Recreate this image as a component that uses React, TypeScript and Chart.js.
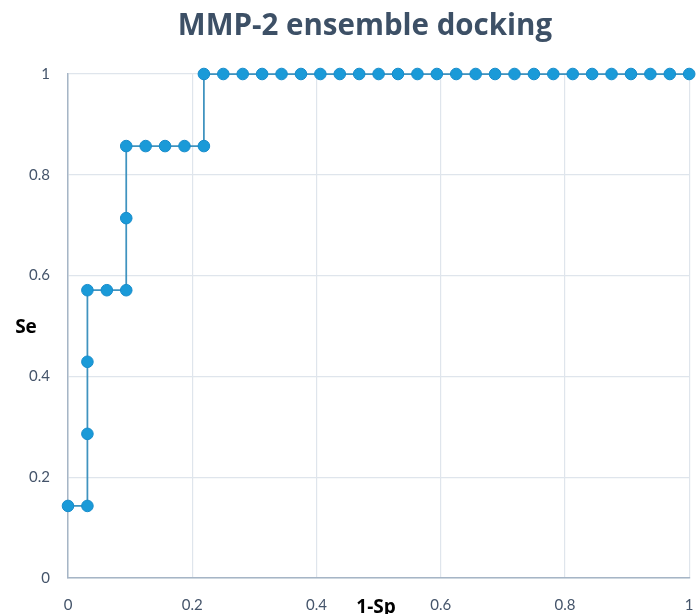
import React, { useEffect, useRef } from "react";
import { Chart, registerables } from "chart.js";

Chart.register(...registerables);

const chartTitle = "MMP-2 ensemble docking";
const xAxisLabel = "1-Sp";
const yAxisLabel = "Se";

const oneMinusSp = [
  0, 0.03125, 0.03125, 0.03125, 0.03125, 0.0625, 0.09375, 0.09375, 0.09375,
  0.125, 0.15625, 0.1875, 0.21875, 0.21875, 0.25, 0.28125, 0.3125, 0.34375,
  0.375, 0.40625, 0.4375, 0.46875, 0.5, 0.53125, 0.5625, 0.59375, 0.625,
  0.65625, 0.6875, 0.71875, 0.75, 0.78125, 0.8125, 0.84375, 0.875, 0.90625,
  0.9375, 0.96875, 1,
];
const sensitivity = [
  0.143, 0.143, 0.286, 0.429, 0.571, 0.571, 0.571, 0.714, 0.857, 0.857, 0.857,
  0.857, 0.857, 1, 1, 1, 1, 1, 1, 1, 1, 1, 1, 1, 1, 1, 1, 1, 1, 1, 1, 1, 1, 1,
  1, 1, 1, 1, 1,
];

const FONT = "Lato, 'Open Sans', sans-serif";
const BOLD_FONT = "'Open Sans', Lato, sans-serif";

const fmt = (v: any) => String(Number(Number(v).toFixed(1)));

export default function App() {
  const ref = useRef<HTMLCanvasElement | null>(null);

  useEffect(() => {
    if (!ref.current) return;
    const labelsPlugin = {
      id: "labels",
      afterDraw(chart: any) {
        const ctx = chart.ctx;
        ctx.save();
        ctx.fillStyle = "#3d5066";
        ctx.font = `bold 29.5px ${BOLD_FONT}`;
        ctx.textAlign = "center";
        ctx.textBaseline = "alphabetic";
        ctx.fillText(chartTitle, 365, 35);
        ctx.fillStyle = "#000000";
        ctx.font = `bold 19px ${BOLD_FONT}`;
        ctx.fillText(yAxisLabel, 26, 333);
        ctx.fillText(xAxisLabel, 376, 613);
        ctx.restore();
      },
    };

    const chart = new Chart(ref.current, {
      type: "scatter",
      data: {
        datasets: [
          {
            data: oneMinusSp.map((x, i) => ({ x, y: sensitivity[i] })),
            showLine: true,
            borderColor: "#3f93bf",
            borderWidth: 1.75,
            backgroundColor: "#1a9ad8",
            pointBackgroundColor: "#1a9ad8",
            pointBorderColor: "#178ccb",
            pointBorderWidth: 1,
            pointRadius: 5.8,
            clip: false as any,
          },
        ],
      },
      options: {
        animation: false,
        responsive: false,
        layout: { padding: { left: 0, right: 6, top: 74, bottom: 0 } },
        plugins: {
          legend: { display: false },
          title: { display: false },
          tooltip: { enabled: false },
        },
        scales: {
          x: {
            type: "linear",
            min: 0,
            max: 1,
            ticks: {
              stepSize: 0.2,
              padding: 18,
              color: "#44546a",
              font: { family: FONT, size: 15 },
              callback: fmt,
            },
            grid: { color: "#dfe5ec", lineWidth: 1.2, drawTicks: false },
            border: { color: "#a6b5c6", width: 1.5 },
            afterFit: (s: any) => {
              s.height = 36;
              s.paddingLeft = 0;
              s.paddingRight = 0;
            },
          },
          y: {
            type: "linear",
            min: 0,
            max: 1,
            ticks: {
              stepSize: 0.2,
              padding: 18,
              color: "#44546a",
              font: { family: FONT, size: 15 },
              callback: fmt,
            },
            grid: { color: "#dfe5ec", lineWidth: 1.2, drawTicks: false },
            border: { color: "#a6b5c6", width: 1.5 },
            afterFit: (s: any) => {
              s.width = 68;
            },
          },
        },
      },
      plugins: [labelsPlugin],
    });
    return () => chart.destroy();
  }, []);

  return (
    <div style={{ position: "absolute", left: 0, top: 0, width: 696, height: 614, background: "#ffffff" }}>
      <canvas ref={ref} width={696} height={614} />
    </div>
  );
}
